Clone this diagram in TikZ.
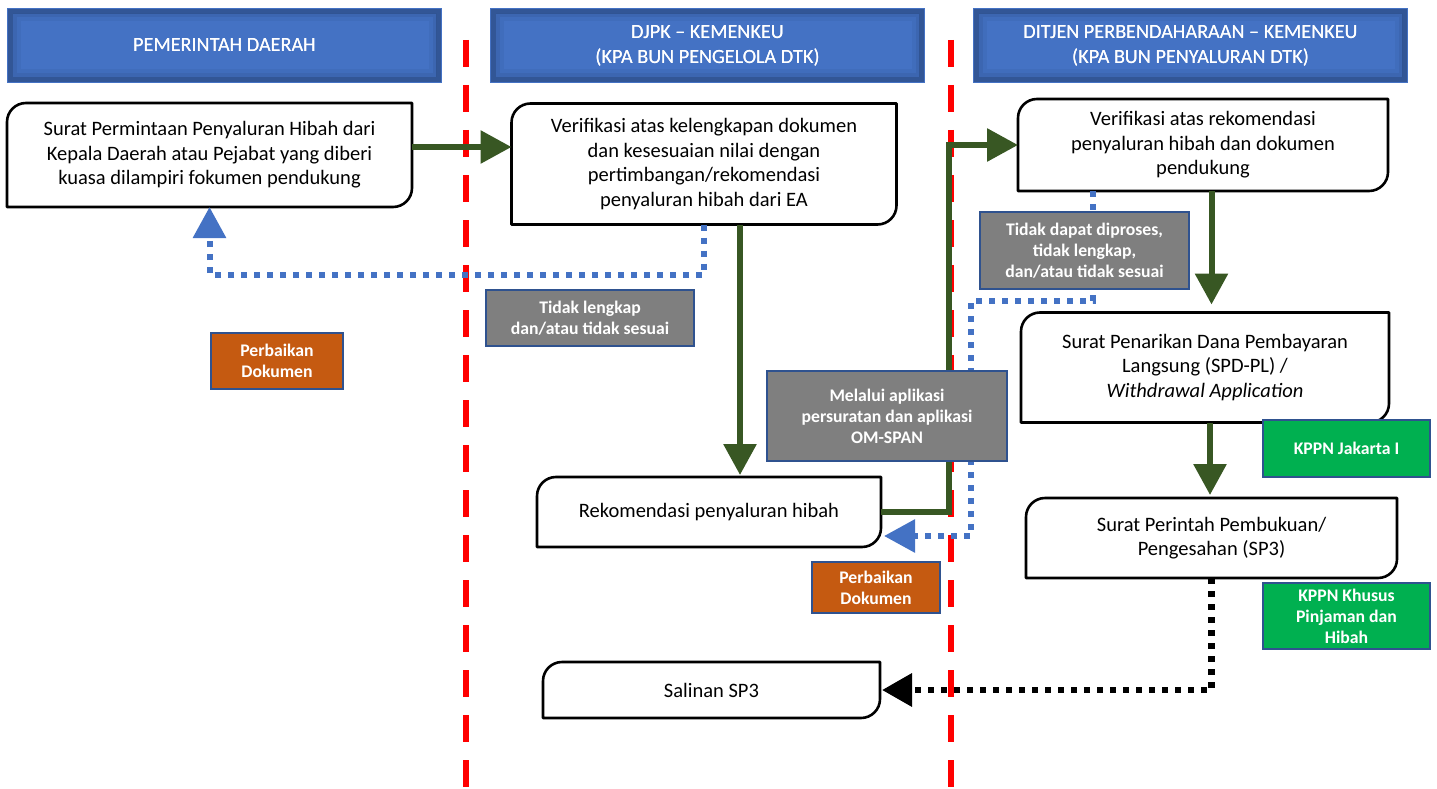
\documentclass[tikz,border=0pt]{standalone}
\usepackage{fontspec}
\setmainfont{Carlito}
\usetikzlibrary{arrows.meta,calc}
\definecolor{hdr}{HTML}{4472C4}
\definecolor{hdrdark}{HTML}{2F528F}
\definecolor{grn}{HTML}{385723}
\definecolor{gry}{HTML}{7F7F7F}
\definecolor{org}{HTML}{C55A11}
\definecolor{kgrn}{HTML}{00B050}
\definecolor{dotblue}{HTML}{4472C4}
\newcommand\procframe[1]{%
  \draw[line width=2.6pt, line join=round] (#1.west) [rounded corners=19pt] -- (#1.north west) -- (#1.north) [sharp corners] -- (#1.north east) -- (#1.east) [rounded corners=19pt] -- (#1.south east) -- (#1.south) [sharp corners] -- (#1.south west) -- cycle;}
\newcommand\hdrshade[1]{%
  \draw[hdrdark, line width=5pt, opacity=0.85] ([shift={(3.5,3.5)}]#1.north west) rectangle ([shift={(-3.5,-3.5)}]#1.south east);
  \draw[hdrdark, line width=4pt, opacity=0.35] ([shift={(7.5,7.5)}]#1.north west) rectangle ([shift={(-7.5,-7.5)}]#1.south east);
  \draw[hdrdark, line width=4pt, opacity=0.15] ([shift={(11.5,11.5)}]#1.north west) rectangle ([shift={(-11.5,-11.5)}]#1.south east);}
\begin{document}
\begin{tikzpicture}[x=1pt,y=-1pt,
  every node/.style={inner sep=0pt, outer sep=0pt},
  hdrbox/.style={minimum width=435pt, minimum height=75pt, fill=hdr, text=white, align=center, font=\fontsize{20.2}{25}\selectfont},
  procbox/.style={align=center, font=\fontsize{20.5}{24.4}\selectfont},
  lab/.style={fill=#1, draw=hdrdark, line width=2.6pt, text=white, align=center, font=\bfseries\fontsize{17.7}{21}\selectfont},
  garrow/.style={draw=grn, line width=6pt, -{Triangle[length=31pt,width=32pt]}},
  bluedot/.style={draw=dotblue, line width=6pt, dash pattern=on 6pt off 7pt, -{Triangle[length=31pt,width=32pt]}},
  blackdot/.style={draw=black, line width=6.5pt, dash pattern=on 6pt off 7pt, -{Triangle[length=30pt,width=32pt]}},
  redline/.style={draw=red, line width=6pt, dash pattern=on 27pt off 18pt}
]
\useasboundingbox (0,0) rectangle (1437,789);
% lane separators
\draw[redline] (466,40) -- (466,789);
\draw[redline] (951,40) -- (951,789);
% headers
\node[hdrbox] (H1) at (224.5,45.5) {PEMERINTAH DAERAH};
\node[hdrbox] (H2) at (707.5,45.5) {DJPK – KEMENKEU\\(KPA BUN PENGELOLA DTK)};
\node[hdrbox] (H3) at (1190.5,45.5) {DITJEN PERBENDAHARAAN – KEMENKEU\\(KPA BUN PENYALURAN DTK)};
\hdrshade{H1}\hdrshade{H2}\hdrshade{H3}
\node[hdrbox, fill=none] at (H1) {PEMERINTAH DAERAH};
\node[hdrbox, fill=none] at (H2) {DJPK – KEMENKEU\\(KPA BUN PENGELOLA DTK)};
\node[hdrbox, fill=none] at (H3) {DITJEN PERBENDAHARAAN – KEMENKEU\\(KPA BUN PENYALURAN DTK)};
% process boxes
\node[procbox, minimum width=405pt, minimum height=104pt] (A) at (209.5,155) {Surat Permintaan Penyaluran Hibah dari\\Kepala Daerah atau Pejabat yang diberi\\kuasa dilampiri fokumen pendukung};
\node[procbox, minimum width=385pt, minimum height=121pt] (B) at (704,164) {Verifikasi atas kelengkapan dokumen\\dan kesesuaian nilai dengan\\pertimbangan/rekomendasi\\penyaluran hibah dari EA};
\node[procbox, minimum width=370pt, minimum height=92pt] (C) at (1203,145) {Verifikasi atas rekomendasi\\penyaluran hibah dan dokumen\\pendukung};
\node[procbox, minimum width=344pt, minimum height=70pt] (D) at (709,512) {Rekomendasi penyaluran hibah};
\node[procbox, minimum width=368pt, minimum height=110pt] (E) at (1205,367.5) {Surat Penarikan Dana Pembayaran\\Langsung (SPD-PL) /\\\textit{Withdrawal Application}};
\node[procbox, minimum width=371pt, minimum height=80pt] (F) at (1211.5,538) {Surat Perintah Pembukuan/\\Pengesahan (SP3)};
\node[procbox, minimum width=337pt, minimum height=56pt] (G) at (711.5,690) {Salinan SP3};
\procframe{A}\procframe{B}\procframe{C}\procframe{D}\procframe{E}\procframe{F}\procframe{G}
% connectors
\draw[garrow] ([yshift=8pt]A.east) -- ([yshift=8pt]A.east -| B.west);
\draw[garrow, shorten >=2pt] ([xshift=36pt]B.south) -- ([xshift=36pt]B.south |- D.north);
\draw[garrow, line join=miter] (D.east) -| ([xshift=-69pt]C.west) -- (C.west);
\draw[garrow, shorten >=8pt] ([xshift=8.5pt]C.south) -- ([xshift=8.5pt]C.south |- E.north);
\draw[garrow, shorten >=3pt] ([xshift=5pt]E.south) -- ([xshift=5pt]E.south |- F.north);
\draw[bluedot] (B.south) -- ++(0,50) -| (A.south);
\draw[bluedot, shorten >=3pt] ([xshift=-110pt]C.south) -- ++(0,110) -- ++(-122,0) |- ([yshift=11pt]D.south east);
\draw[blackdot, shorten >=2pt] (F.south) |- (G.east);
% labels
\node[lab=gry, minimum width=208pt, minimum height=56pt] (L1) at (590,318) {Tidak lengkap\\dan/atau tidak sesuai};
\node[lab=gry, minimum width=209pt, minimum height=77pt] (L2) at (1084.5,250.5) {Tidak dapat diproses,\\tidak lengkap,\\dan/atau tidak sesuai};
\node[lab=gry, minimum width=240pt, minimum height=90pt] (L3) at (887,416) {Melalui aplikasi\\persuratan dan aplikasi\\OM-SPAN};
\node[lab=org, minimum width=132pt, minimum height=56pt] (O1) at (277,361) {Perbaikan\\Dokumen};
\node[lab=org, minimum width=128pt, minimum height=51pt] (O2) at (876,587.5) {Perbaikan\\Dokumen};
\node[lab=kgrn, minimum width=167pt, minimum height=57pt] (K1) at (1346.5,448.5) {KPPN Jakarta I};
\node[lab=kgrn, minimum width=167pt, minimum height=66pt] (K2) at (1346.5,616) {KPPN Khusus\\Pinjaman dan\\Hibah};
\end{tikzpicture}
\end{document}
